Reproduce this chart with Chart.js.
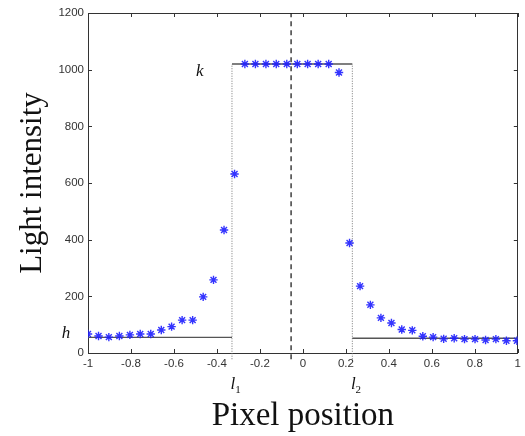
<!DOCTYPE html>
<html><head><meta charset="utf-8">
<script src="https://cdn.jsdelivr.net/npm/chart.js@4.4.1/dist/chart.umd.min.js"></script>
<style>html,body{margin:0;padding:0;background:#fff}#wrap{width:525px;height:436px;position:relative}</style>
</head><body><div id="wrap"><canvas id="c"></canvas></div>
<script>
// ---- data ----
const xTicks = [-1, -0.8, -0.6, -0.4, -0.2, 0, 0.2, 0.4, 0.6, 0.8, 1];
const yTicks = [0, 200, 400, 600, 800, 1000, 1200];
const pixelPos = [-1, -0.951, -0.903, -0.854, -0.805, -0.757, -0.708, -0.659, -0.611, -0.562, -0.513, -0.464, -0.416,
  -0.367, -0.318,
  -0.270, -0.221, -0.172, -0.124, -0.075, -0.026, 0.022, 0.071, 0.120, 0.168,
  0.217,
  0.266, 0.314, 0.363, 0.412, 0.460, 0.509, 0.558, 0.606, 0.655, 0.704, 0.752, 0.801, 0.850, 0.898, 0.947, 0.996];
const intensity = [67, 60, 56, 60, 64, 67, 67, 81, 93, 116, 116, 198, 258,
  434, 632,
  1020, 1020, 1020, 1020, 1020, 1020, 1020, 1020, 1020, 990,
  388,
  236, 170, 124, 106, 83, 80, 59, 56, 50, 52, 49, 49, 46, 49, 43, 43];
const edges = [-0.33, 0.23];          // l1, l2
const levels = [55, 1020, 52];        // h (left), k, h (right)
const centerLine = [-0.055];
const textLabels = ['k', 'h', 'l', 'l'];
const subLabels = ['1', '2'];

const l1 = edges[0], l2 = edges[1];
const hL = levels[0], kL = levels[1], hR = levels[2];
const below = -22;

const starData = pixelPos.map((x, i) => ({ x: x, y: intensity[i] }));
const solidModel = [
  { x: -1, y: hL }, { x: l1, y: hL }, { x: l1, y: null },
  { x: l1, y: kL }, { x: l2, y: kL }, { x: l2, y: null },
  { x: l2, y: hR }, { x: 1, y: hR }
];
const dottedModel = [
  { x: l1, y: below }, { x: l1, y: kL }, { x: l1, y: null },
  { x: l2, y: below }, { x: l2, y: kL }
];
const centerData = [{ x: centerLine[0], y: below }, { x: centerLine[0], y: 1200 }];

const framePlugin = {
  id: 'frame',
  beforeDatasetsDraw(chart) {
    const { ctx, chartArea: a, scales: { x, y } } = chart;
    ctx.save();
    ctx.strokeStyle = '#333';
    ctx.lineWidth = 1;
    ctx.strokeRect(Math.round(a.left) + 0.5, Math.round(a.top) + 0.5,
      Math.round(a.right - a.left) - 1, Math.round(a.bottom - a.top));
    const tl = 4;
    ctx.beginPath();
    xTicks.forEach(v => {
      const px = Math.round(x.getPixelForValue(v)) + 0.5;
      ctx.moveTo(px, a.bottom); ctx.lineTo(px, a.bottom - tl);
      ctx.moveTo(px, a.top); ctx.lineTo(px, a.top + tl);
    });
    yTicks.forEach(v => {
      const py = Math.round(y.getPixelForValue(v)) + 0.5;
      ctx.moveTo(a.left, py); ctx.lineTo(a.left + tl, py);
      ctx.moveTo(a.right, py); ctx.lineTo(a.right - tl, py);
    });
    ctx.stroke();
    ctx.restore();
  },
  afterDraw(chart) {
    const { ctx, chartArea: a, scales: { x, y } } = chart;
    ctx.save();
    ctx.fillStyle = '#111';
    ctx.textAlign = 'center';
    ctx.textBaseline = 'middle';
    ctx.font = 'italic 17px "Liberation Serif", "Times New Roman", serif';
    // k
    ctx.fillText(textLabels[0], x.getPixelForValue(l1 - 0.15), y.getPixelForValue(kL) + 8);
    // h
    ctx.fillText(textLabels[1], a.left - 22, y.getPixelForValue(hL) - 4);
    // l1, l2
    const ly = a.bottom + 32;
    [l1, l2].forEach((v, i) => {
      const px = x.getPixelForValue(v) + 1;
      ctx.font = 'italic 17px "Liberation Serif", "Times New Roman", serif';
      ctx.fillText(textLabels[2 + i], px, ly);
      ctx.font = '11px "Liberation Serif", "Times New Roman", serif';
      ctx.fillText(subLabels[i], px + 5, ly + 5);
    });
    ctx.restore();
  }
};

new Chart(document.getElementById('c'), {
  type: 'scatter',
  data: {
    datasets: [
      { data: starData, showLine: false, pointStyle: 'star', pointRadius: 4.2, pointHoverRadius: 4.2,
        borderColor: 'rgba(30,30,255,0.9)', backgroundColor: 'rgba(30,30,255,0.9)', pointBorderWidth: 1.4 },
      { data: solidModel, showLine: true, spanGaps: false, pointRadius: 0, borderColor: '#555', borderWidth: 1.3, clip: false },
      { data: dottedModel, showLine: true, spanGaps: false, pointRadius: 0, borderColor: '#777', borderWidth: 1, borderDash: [1, 1.5], clip: false },
      { data: centerData, showLine: true, pointRadius: 0, borderColor: '#222', borderWidth: 1.3, borderDash: [5, 4], clip: false }
    ]
  },
  options: {
    responsive: true,
    maintainAspectRatio: false,
    animation: false,
    events: [],
    layout: { padding: { top: 13, right: 4, left: 0, bottom: 0 } },
    plugins: { legend: { display: false }, tooltip: { enabled: false } },
    scales: {
      x: {
        type: 'linear', min: -1, max: 1,
        afterBuildTicks: s => { s.ticks = xTicks.map(v => ({ value: v })); },
        afterFit: s => { s.height = 83; },
        grid: { display: false, drawTicks: false },
        border: { display: false },
        ticks: { padding: 4, color: '#333', maxRotation: 0, autoSkip: false,
          font: { family: '"Liberation Sans", Arial, sans-serif', size: 11.5 },
          callback: v => String(v) },
        title: { display: true, text: 'Pixel position', color: '#111',
          font: { family: '"Liberation Serif", "Times New Roman", serif', size: 33, lineHeight: 1 },
          padding: { top: 0, bottom: 3.5 } }
      },
      y: {
        type: 'linear', min: 0, max: 1200,
        afterBuildTicks: s => { s.ticks = yTicks.map(v => ({ value: v })); },
        afterFit: s => { s.width = 88; },
        grid: { display: false, drawTicks: false },
        border: { display: false },
        ticks: { padding: 4, color: '#333', autoSkip: false,
          font: { family: '"Liberation Sans", Arial, sans-serif', size: 11.5 },
          callback: v => String(v) },
        title: { display: true, text: 'Light intensity', color: '#111',
          font: { family: '"Liberation Serif", "Times New Roman", serif', size: 31, lineHeight: 1 },
          padding: { top: 17.5, bottom: 0 } }
      }
    }
  },
  plugins: [framePlugin]
});
</script>
</body></html>
